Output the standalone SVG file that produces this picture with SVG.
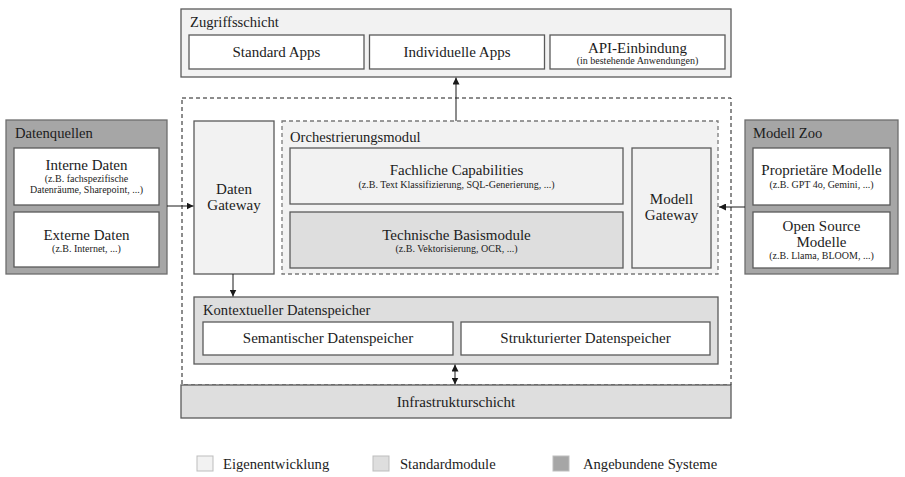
<svg xmlns="http://www.w3.org/2000/svg" width="905" height="477" viewBox="0 0 905 477" font-family="'Liberation Serif', 'DejaVu Serif', serif">
  <style>
    text { font-family: "Liberation Serif", "DejaVu Serif", serif; fill: #1c1c1c; }
    .t { font-size: 14.6px; }
    .l { font-size: 15px; text-anchor: middle; }
    .s { font-size: 10px; text-anchor: middle; }
    .g { font-size: 14.6px; }
    .own { fill: #f2f2f2; stroke: #5a5a5a; stroke-width: 1.3; }
    .std { fill: #dedede; stroke: #5a5a5a; stroke-width: 1.3; }
    .ext { fill: #a6a6a6; stroke: #6e6e6e; stroke-width: 1.3; }
    .box { fill: #ffffff; stroke: #5a5a5a; stroke-width: 1.3; }
    .dash { fill: none; stroke: #1a1a1a; stroke-width: 1; stroke-dasharray: 4 3; }
    .dashg { fill: #f2f2f2; stroke: #7a7a7a; stroke-width: 1.3; stroke-dasharray: 4 3; }
    .con { fill: none; stroke: #1a1a1a; stroke-width: 1; }
    .leg { stroke: #bdbdbd; stroke-width: 1; }
  </style>
  <defs>
    <marker id="arr" viewBox="0 0 10 10" refX="10" refY="5" markerWidth="7" markerHeight="7" orient="auto-start-reverse" markerUnits="userSpaceOnUse">
      <path d="M0,0 L10,5 L0,10 Z" fill="#1a1a1a"/>
    </marker>
  </defs>

  <rect width="905" height="477" fill="#ffffff"/>

  <!-- platform boundary -->
  <g id="platform">
    <rect class="dash" x="182" y="98" width="549" height="287"/>
  </g>

  <!-- access layer -->
  <g id="zugriffsschicht">
    <rect class="own" x="181" y="9" width="550" height="68"/>
    <text class="t" x="190" y="27">Zugriffsschicht</text>
    <rect class="box" x="189" y="35" width="175" height="34"/>
    <text class="l" x="276.5" y="57">Standard Apps</text>
    <rect class="box" x="369.5" y="35" width="175" height="34"/>
    <text class="l" x="457" y="57">Individuelle Apps</text>
    <rect class="box" x="550" y="35" width="175" height="34"/>
    <text class="l" x="637.5" y="53">API-Einbindung</text>
    <text class="s" x="637.5" y="64">(in bestehende Anwendungen)</text>
  </g>

  <!-- data sources -->
  <g id="datenquellen">
    <rect class="ext" x="6" y="120" width="161" height="154"/>
    <text class="t" x="15" y="138">Datenquellen</text>
    <rect class="box" x="14" y="148" width="145" height="57"/>
    <text class="l" x="86.5" y="170">Interne Daten</text>
    <text class="s" x="86.5" y="182">(z.B. fachspezifische</text>
    <text class="s" x="86.5" y="193">Datenräume, Sharepoint, ...)</text>
    <rect class="box" x="14" y="212" width="145" height="55"/>
    <text class="l" x="86.5" y="240">Externe Daten</text>
    <text class="s" x="86.5" y="252">(z.B. Internet, ...)</text>
  </g>

  <g id="daten-gateway">
    <rect class="own" x="194" y="121" width="80" height="153"/>
    <text class="l" x="234" y="194">Daten</text>
    <text class="l" x="234" y="210">Gateway</text>
  </g>

  <!-- orchestration module -->
  <g id="orchestrierungsmodul">
    <rect class="dashg" x="282" y="121" width="436" height="153"/>
    <text class="t" x="290" y="142">Orchestrierungsmodul</text>
  </g>
  <g id="fachliche-capabilities">
    <rect class="own" x="290" y="148" width="333" height="56"/>
    <text class="l" x="456.5" y="175">Fachliche Capabilities</text>
    <text class="s" x="456.5" y="188">(z.B. Text Klassifizierung, SQL-Generierung, ...)</text>
  </g>
  <g id="technische-basismodule">
    <rect class="std" x="290" y="212" width="333" height="56"/>
    <text class="l" x="456.5" y="240">Technische Basismodule</text>
    <text class="s" x="456.5" y="252">(z.B. Vektorisierung, OCR, ...)</text>
  </g>
  <g id="modell-gateway">
    <rect class="own" x="632" y="148" width="79" height="120"/>
    <text class="l" x="671.5" y="204">Modell</text>
    <text class="l" x="671.5" y="220">Gateway</text>
  </g>

  <!-- model zoo -->
  <g id="modell-zoo">
    <rect class="ext" x="745" y="120" width="153" height="154"/>
    <text class="t" x="753" y="138">Modell Zoo</text>
    <rect class="box" x="753" y="148" width="137" height="57"/>
    <text class="l" x="821.5" y="175">Proprietäre Modelle</text>
    <text class="s" x="821.5" y="188">(z.B. GPT 4o, Gemini, ...)</text>
    <rect class="box" x="753" y="212" width="137" height="56"/>
    <text class="l" x="821.5" y="231">Open Source</text>
    <text class="l" x="821.5" y="247">Modelle</text>
    <text class="s" x="821.5" y="259">(z.B. Llama, BLOOM, ...)</text>
  </g>

  <!-- context store -->
  <g id="kontextueller-datenspeicher">
    <rect class="std" x="194" y="297" width="524" height="67"/>
    <text class="t" x="203" y="315">Kontextueller Datenspeicher</text>
    <rect class="box" x="203" y="322" width="250" height="33"/>
    <text class="l" x="328" y="343">Semantischer Datenspeicher</text>
    <rect class="box" x="461" y="322" width="249" height="33"/>
    <text class="l" x="585.5" y="343">Strukturierter Datenspeicher</text>
  </g>

  <g id="infrastrukturschicht">
    <rect class="std" x="181" y="385" width="550" height="33"/>
    <text class="l" x="456" y="407">Infrastrukturschicht</text>
  </g>

  <!-- connectors -->
  <g id="connectors">
    <line class="con" x1="456" y1="121" x2="456" y2="77.5" marker-end="url(#arr)"/>
    <line class="con" x1="167" y1="206" x2="193.5" y2="206" marker-end="url(#arr)"/>
    <line class="con" x1="745" y1="207" x2="719" y2="207" marker-end="url(#arr)"/>
    <line class="con" x1="233" y1="274" x2="233" y2="296.5" marker-end="url(#arr)"/>
    <line class="con" x1="455" y1="364.5" x2="455" y2="384.5" marker-start="url(#arr)" marker-end="url(#arr)"/>
  </g>

  <!-- legend -->
  <g id="legende">
    <rect class="leg" x="197" y="456" width="16" height="15" fill="#f2f2f2"/>
    <text class="g" x="223" y="469">Eigenentwicklung</text>
    <rect class="leg" x="373" y="456" width="16" height="15" fill="#dedede"/>
    <text class="g" x="400" y="469">Standardmodule</text>
    <rect class="leg" x="553" y="456" width="16" height="15" fill="#a6a6a6"/>
    <text class="g" x="583" y="469">Angebundene Systeme</text>
  </g>
</svg>
